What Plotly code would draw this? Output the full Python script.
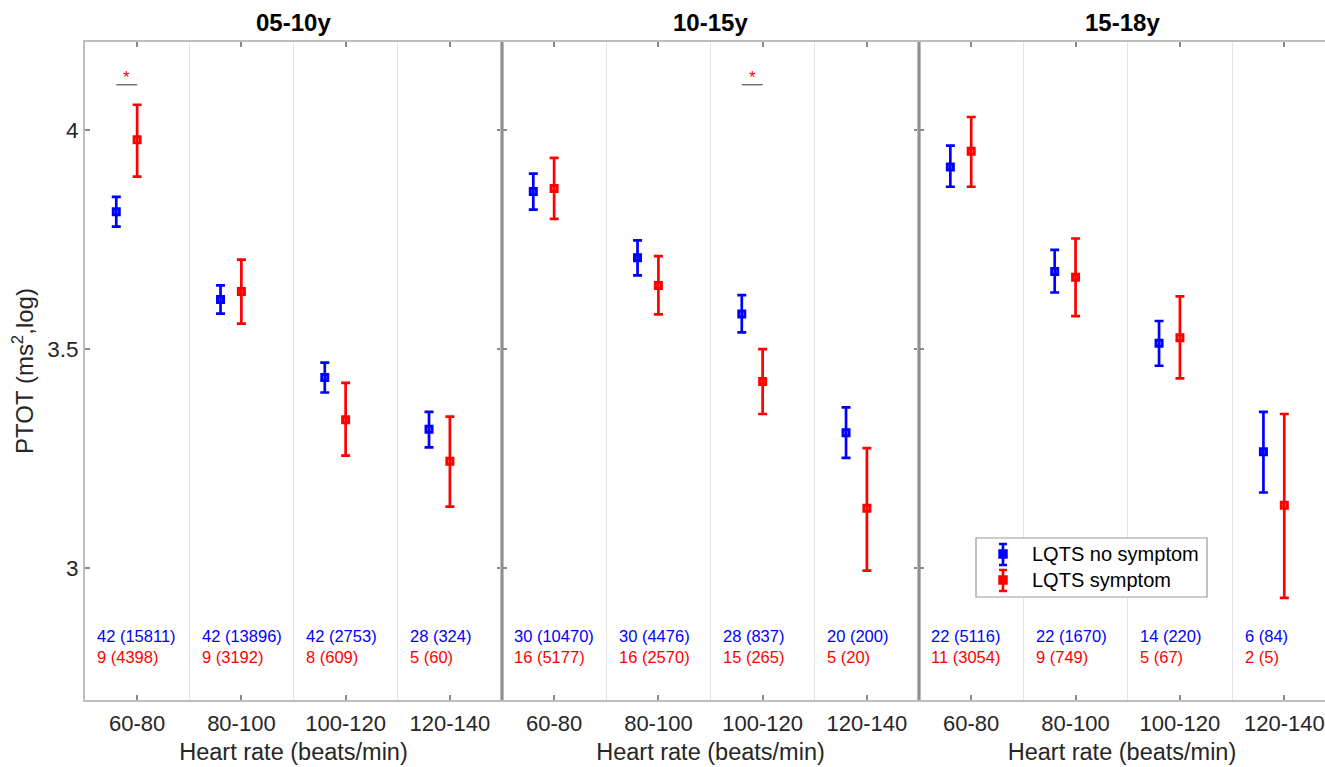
import plotly.graph_objects as go

categories = ["60-80", "80-100", "100-120", "120-140"]
groups = ["05-10y", "10-15y", "15-18y"]
series_names = ["LQTS no symptom", "LQTS symptom"]

# LQTS no symptom (blue): mean, upper, lower per age group
nosym_mean = [[3.813, 3.613, 3.435, 3.317],
              [3.859, 3.708, 3.580, 3.309],
              [3.915, 3.677, 3.513, 3.266]]
nosym_hi = [[3.847, 3.645, 3.469, 3.357],
            [3.900, 3.748, 3.623, 3.367],
            [3.964, 3.726, 3.564, 3.357]]
nosym_lo = [[3.779, 3.581, 3.401, 3.276],
            [3.818, 3.668, 3.538, 3.252],
            [3.870, 3.629, 3.462, 3.173]]

# LQTS symptom (red)
sym_mean = [[3.977, 3.631, 3.339, 3.244],
            [3.866, 3.645, 3.426, 3.137],
            [3.951, 3.664, 3.526, 3.144]]
sym_hi = [[4.057, 3.704, 3.423, 3.346],
          [3.936, 3.712, 3.500, 3.274],
          [4.029, 3.752, 3.620, 3.352]]
sym_lo = [[3.893, 3.558, 3.257, 3.141],
          [3.797, 3.579, 3.352, 2.995],
          [3.870, 3.575, 3.433, 2.933]]

nosym_counts = [["42 (15811)", "42 (13896)", "42 (2753)", "28 (324)"],
                ["30 (10470)", "30 (4476)", "28 (837)", "20 (200)"],
                ["22 (5116)", "22 (1670)", "14 (220)", "6 (84)"]]
sym_counts = [["9 (4398)", "9 (3192)", "8 (609)", "5 (60)"],
              ["16 (5177)", "16 (2570)", "15 (265)", "5 (20)"],
              ["11 (3054)", "9 (749)", "5 (67)", "2 (5)"]]

# significant comparisons: (group index, category index)
significant = [(0, 0), (1, 2)]

yticks = [3, 3.5, 4]
ytick_labels = ["3", "3.5", "4"]
y_range = [2.7, 4.2]
count_y = [2.845, 2.797]
sig_line_y = 4.1025
sig_star_y = 4.12

BLUE = "#0000ff"
RED = "#ff0000"
FONT = "Liberation Sans, Arial, Helvetica, sans-serif"
FRAME = "#bdbdbd"
SEP = "#8f8f8f"
TICKC = "#8a8a8a"

# the page body margin is removed by a post script, so the figure fills the window exactly
OFF = 0
W, H = 1325, 767
ML, MR, MT, MB = 85, 0, 42, 67
PW, PH = W - ML - MR, H - MT - MB

def px_x(px):
    return (px - OFF - ML) / PW

def px_y(py):
    return (H - MB - (py - OFF)) / PH

domains = [[0.0, 0.3363], [0.3363, 0.6726], [0.6726, 1.0]]
x_ranges = [[0.5, 4.5], [0.5, 4.5], [0.5, 4.39]]

fig = go.Figure()
pos = [i + 1 for i in range(len(categories))]

for g in range(len(groups)):
    xa = "x" if g == 0 else f"x{g+1}"
    ya = "y" if g == 0 else f"y{g+1}"
    bx = [p - 0.2 for p in pos]
    fig.add_trace(go.Scatter(
        x=bx, y=nosym_mean[g], mode="markers", name=series_names[0],
        xaxis=xa, yaxis=ya, showlegend=False,
        marker=dict(symbol="square-open", size=6, color=BLUE, line=dict(width=3, color=BLUE)),
        error_y=dict(type="data", symmetric=False,
                     array=[h - m for h, m in zip(nosym_hi[g], nosym_mean[g])],
                     arrayminus=[m - l for l, m in zip(nosym_lo[g], nosym_mean[g])],
                     color=BLUE, thickness=2.7, width=4.5)))
    fig.add_trace(go.Scatter(
        x=pos, y=sym_mean[g], mode="markers", name=series_names[1],
        xaxis=xa, yaxis=ya, showlegend=False,
        marker=dict(symbol="square-open", size=6, color=RED, line=dict(width=3, color=RED)),
        error_y=dict(type="data", symmetric=False,
                     array=[h - m for h, m in zip(sym_hi[g], sym_mean[g])],
                     arrayminus=[m - l for l, m in zip(sym_lo[g], sym_mean[g])],
                     color=RED, thickness=2.7, width=4.5)))

    # count annotations
    for i, p in enumerate(pos):
        fig.add_annotation(x=p - 0.4, y=count_y[0], xref=xa, yref=ya, text=nosym_counts[g][i],
                           showarrow=False, xanchor="left", yanchor="middle",
                           font=dict(family=FONT, size=16.5, color=BLUE))
        fig.add_annotation(x=p - 0.4, y=count_y[1], xref=xa, yref=ya, text=sym_counts[g][i],
                           showarrow=False, xanchor="left", yanchor="middle",
                           font=dict(family=FONT, size=16.5, color=RED))

    # panel title
    fig.add_annotation(x=0.5, y=1, xref=f"{xa} domain", yref="paper", yshift=20,
                       text=f"<b>{groups[g]}</b>", showarrow=False, yanchor="middle",
                       font=dict(family=FONT, size=24, color="black"))

    axis_common = dict(showline=True, linecolor=FRAME, linewidth=2, ticks="inside",
                       tickcolor=TICKC, tickwidth=1.5, ticklen=5, zeroline=False,
                       automargin=False)
    xkw = dict(domain=domains[g], range=x_ranges[g], tickmode="array", tickvals=pos,
               ticktext=categories, showgrid=False, mirror="ticks",
               ticklabelstandoff=3, ticklabeloverflow="allow",
               tickfont=dict(family=FONT, size=22, color="#262626"),
               title=dict(text="Heart rate (beats/min)", standoff=8,
                          font=dict(family=FONT, size=23.5, color="#262626")),
               minor=dict(tickmode="array", tickvals=[1.5, 2.5, 3.5], showgrid=True,
                          gridcolor="#e2e2e2", gridwidth=1.2, ticks=""),
               anchor=ya, **axis_common)
    ykw = dict(domain=[0, 1], range=y_range, tickmode="array", tickvals=yticks,
               ticktext=ytick_labels, showgrid=False,
               mirror=("ticks" if g < 2 else False),
               showticklabels=(g == 0), anchor=xa,
               tickfont=dict(family=FONT, size=22.5, color="#262626"), **axis_common)
    if g == 0:
        ykw["title"] = dict(text="PTOT (ms<sup>2</sup>,log)", standoff=7,
                            font=dict(family=FONT, size=24, color="#262626"))
    else:
        ykw["matches"] = "y"
    fig.update_layout(**{("xaxis" if g == 0 else f"xaxis{g+1}"): xkw,
                         ("yaxis" if g == 0 else f"yaxis{g+1}"): ykw})

# significance markers
for g, c in significant:
    xa = "x" if g == 0 else f"x{g+1}"
    ya = "y" if g == 0 else f"y{g+1}"
    p = pos[c]
    fig.add_trace(go.Scatter(x=[p - 0.2, p], y=[sig_line_y, sig_line_y], mode="lines",
                             line=dict(color="#555555", width=1.2), xaxis=xa, yaxis=ya,
                             showlegend=False, hoverinfo="skip"))
    fig.add_annotation(x=p - 0.1, y=sig_star_y, xref=xa, yref=ya, text="*", showarrow=False,
                       font=dict(family=FONT, size=17, color=RED), yanchor="middle")

shapes = []
# darker separators between panels
for d in domains[1:]:
    shapes.append(dict(type="line", xref="paper", yref="paper", x0=d[0], x1=d[0], y0=0, y1=1,
                       line=dict(color=SEP, width=2), layer="above"))

# manual legend (box + error-bar icons + labels)
shapes.append(dict(type="rect", xref="paper", yref="paper",
                   x0=px_x(976), x1=px_x(1207), y0=px_y(597), y1=px_y(538),
                   line=dict(color="#9a9a9a", width=1.2), fillcolor="white", layer="above"))
legend_items = [(series_names[0], BLUE, 544, 565, 554), (series_names[1], RED, 570, 591, 580)]
ix = 1003
for name, col, top, bot, mid in legend_items:
    shapes.append(dict(type="line", xref="paper", yref="paper", x0=px_x(ix), x1=px_x(ix),
                       y0=px_y(top), y1=px_y(bot), line=dict(color=col, width=2.7), layer="above"))
    for yy in (top, bot):
        shapes.append(dict(type="line", xref="paper", yref="paper", x0=px_x(ix - 4),
                           x1=px_x(ix + 4), y0=px_y(yy), y1=px_y(yy),
                           line=dict(color=col, width=2.5), layer="above"))
    shapes.append(dict(type="rect", xref="paper", yref="paper", x0=px_x(ix - 3.5),
                       x1=px_x(ix + 3.5), y0=px_y(mid + 3.5), y1=px_y(mid - 3.5),
                       line=dict(color=col, width=2.5), fillcolor=col, layer="above"))
    fig.add_annotation(x=px_x(1030), y=px_y(mid), xref="paper", yref="paper", text=name,
                       showarrow=False, xanchor="left", yanchor="middle",
                       font=dict(family=FONT, size=20, color="black"))

fig.update_layout(
    width=W, height=H,
    margin=dict(l=ML, r=MR, t=MT, b=MB),
    paper_bgcolor="white", plot_bgcolor="white",
    font=dict(family=FONT, color="#262626"),
    showlegend=False,
    shapes=shapes,
)

fig.write_html("out.html",
               config={"displayModeBar": False},
               post_script="document.body.style.margin='0';document.body.style.overflow='hidden';")
